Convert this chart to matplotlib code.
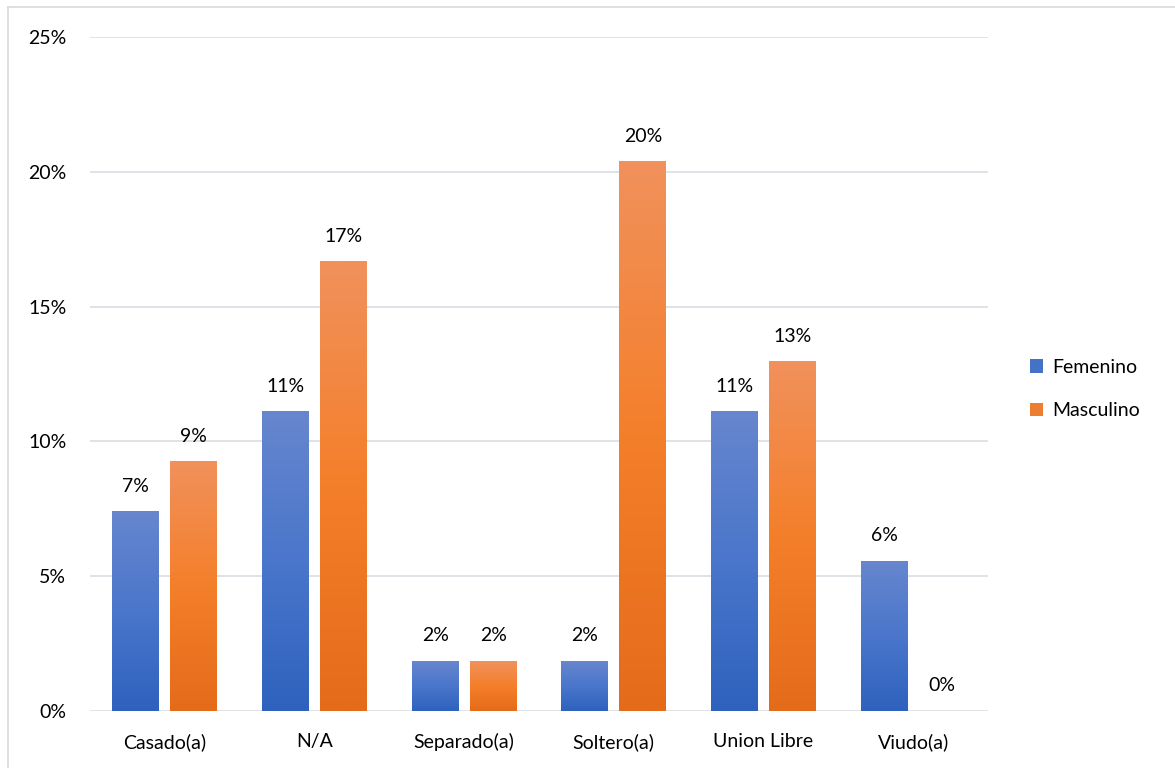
import numpy as np
import matplotlib
matplotlib.use("Agg")
import matplotlib.pyplot as plt
from matplotlib.colors import LinearSegmentedColormap
from matplotlib.patches import Patch
from matplotlib.lines import Line2D

plt.rcParams["font.family"] = ["Lato", "DejaVu Sans"]

categories = ["Casado(a)", "N/A", "Separado(a)", "Soltero(a)", "Union Libre", "Viudo(a)"]
femenino = [0.0741, 0.1111, 0.0185, 0.0185, 0.1111, 0.0556]
masculino = [0.0926, 0.1667, 0.0185, 0.2037, 0.1296, 0.0]
yticks = [0, 0.05, 0.10, 0.15, 0.20, 0.25]

# gradients run bottom -> top inside each bar
blue_cmap = LinearSegmentedColormap.from_list("fem", ["#2E62BE", "#4A76CB", "#6786CE"])
orange_cmap = LinearSegmentedColormap.from_list("mas", ["#E46B1A", "#F47F2A", "#F1915C"])

FS = 14

fig = plt.figure(figsize=(11.75, 7.68), dpi=100)
ax = fig.add_axes([90 / 1175, 1 - 711 / 768, 898 / 1175, 674 / 768])

x = np.arange(len(categories))
width = 0.314
offset = 0.194
grad = np.linspace(0, 1, 256).reshape(-1, 1)


def gradient_bar(xc, h, cmap):
    if h <= 0:
        return
    ax.imshow(grad, cmap=cmap, origin="lower", aspect="auto",
              extent=(xc - width / 2, xc + width / 2, 0, h), zorder=2,
              interpolation="bilinear")


for i in range(len(categories)):
    gradient_bar(x[i] - offset, femenino[i], blue_cmap)
    gradient_bar(x[i] + offset, masculino[i], orange_cmap)
    for xc, v in ((x[i] - offset, femenino[i]), (x[i] + offset, masculino[i])):
        ax.annotate(f"{v * 100:.0f}%", (xc, v), xytext=(0, 12), textcoords="offset points",
                    ha="center", va="bottom", fontsize=FS, color="#000000")

ax.set_xlim(-0.5, len(categories) - 0.5)
ax.set_ylim(0, 0.25)
ax.set_yticks(yticks)
ax.set_yticklabels([f"{t * 100:.0f}%" for t in yticks], fontsize=FS)
ax.set_xticks(x)
ax.set_xticklabels(categories, fontsize=FS)
ax.tick_params(length=0, colors="#000000")
ax.tick_params(axis="x", pad=16)
ax.tick_params(axis="y", pad=17)
ax.grid(axis="y", color="#D9DDE3", linewidth=1.2, zorder=0)
ax.set_axisbelow(True)
for s in ax.spines.values():
    s.set_visible(False)

handles = [Patch(facecolor="#4472C4"), Patch(facecolor="#ED7D31")]
fig.legend(handles, ["Femenino", "Masculino"], loc="center left",
           bbox_to_anchor=(1012 / 1175, 1 - 389 / 768), frameon=False,
           fontsize=FS, handlelength=0.7, handleheight=0.7,
           handletextpad=0.45, labelspacing=1.35)

# light chart frame
fig.add_artist(Line2D([8 / 1175, 8 / 1175], [0, 1 - 7 / 768], color="#D9D9D9", lw=1.2))
fig.add_artist(Line2D([8 / 1175, 1], [1 - 7 / 768, 1 - 7 / 768], color="#D9D9D9", lw=1.2))

fig.savefig("out.png", dpi=100)
